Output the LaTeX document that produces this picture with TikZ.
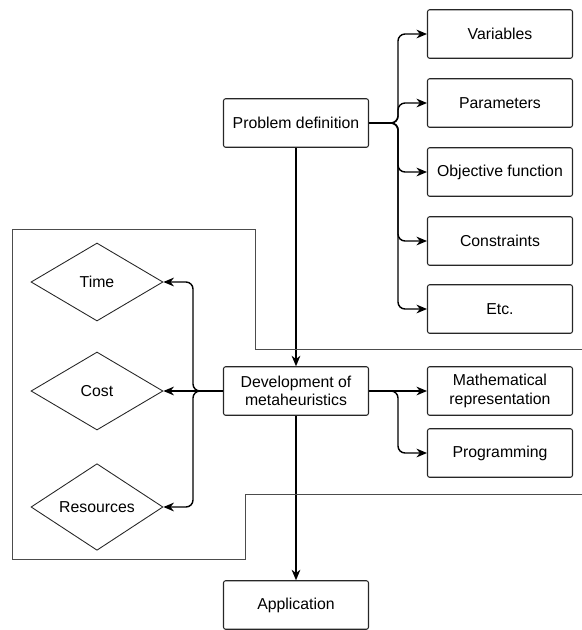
\documentclass[tikz,border=0pt]{standalone}
\usepackage{fontspec}
\setmainfont{Liberation Sans}
\usetikzlibrary{shapes.geometric,arrows.meta}

\begin{document}
\begin{tikzpicture}[x=0.02cm,y=-0.02cm,
  font=\fontsize{9}{10.5}\selectfont,
  box/.style={draw=black!85,rounded corners=1.2pt,line width=0.6pt,
    minimum width=2.9cm,minimum height=0.97cm,inner sep=1pt,align=center},
  gem/.style={draw=black!85,diamond,line width=0.5pt,inner sep=0pt,
    minimum width=2.64cm,minimum height=1.56cm},
  arr/.style={-{Stealth[length=6pt,width=5pt]},line width=0.8pt,rounded corners=4pt},
  frame/.style={draw=black!70,line width=0.45pt}]
  \useasboundingbox (0,0) rectangle (582,630);
  \begin{scope}
    % main column
    \node[box] (pd) at (296,123) {Problem definition};
    \node[box] (dev) at (296,391) {Development of\\metaheuristics};
    \node[box] (app) at (296,605) {Application};
    % problem parts
    \node[box] (var) at (500,34) {Variables};
    \node[box] (par) at (500,103) {Parameters};
    \node[box] (obj) at (500,172) {Objective function};
    \node[box] (con) at (500,241) {Constraints};
    \node[box] (etc) at (500,309) {Etc.};
    % development parts
    \node[box] (math) at (500,391) {Mathematical\\representation};
    \node[box] (prog) at (500,453) {Programming};
    % limits
    \node[gem] (time) at (97,282) {Time};
    \node[gem] (cost) at (97,391) {Cost};
    \node[gem] (res) at (97,507) {Resources};
  \end{scope}
  \coordinate (pdfork) at (398,123);
  \coordinate (devfork) at (398,391);
  \coordinate (limfork) at (193,391);
  \foreach \t in {var,par,obj,con,etc}
    \draw[arr] (pd.east) -- (pdfork) |- (\t.west);
  \draw[arr] (dev.east) -- (math.west);
  \draw[arr] (dev.east) -- (devfork) |- (prog.west);
  \foreach \t in {time,res}
    \draw[arr] (dev.west) -- (limfork) |- (\t.east);
  \draw[arr] (dev.west) -- (cost.east);
  \draw[arr] (pd) -- (dev);
  \draw[arr] (dev) -- (app);
  % boundary line
  \draw[frame] (582,349) -- (255,349) -- (255,229) -- (12,229) -- (12,559)
    -- (245,559) -- (245,494) -- (582,494);
\end{tikzpicture}
\end{document}
